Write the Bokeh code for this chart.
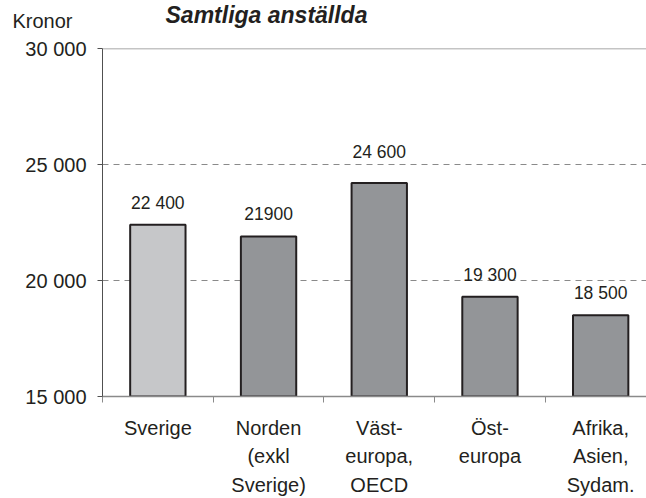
from bokeh.plotting import figure
from bokeh.models import Range1d, FixedTicker, ColumnDataSource, LabelSet, Title, Span
from bokeh.core.properties import value
from bokeh.embed import file_html
from bokeh.resources import INLINE

# ---- data ----
categories = ["Sverige", "Norden\n(exkl\nSverige)", "Väst-\neuropa,\nOECD", "Öst-\neuropa", "Afrika,\nAsien,\nSydam."]
bar_values = [22400, 21900, 24200, 19300, 18500]
label_values = [22400, 21900, 24600, 19300, 18500]
label_texts = ["22 400", "21900", "24 600", "19 300", "18 500"]
bar_colors = ["#c6c7c9", "#939598", "#939598", "#939598", "#939598"]
y_ticks = [15000, 20000, 25000, 30000]
y_tick_labels = ["15 000", "20 000", "25 000", "30 000"]
grid_dashed = [20000, 25000]
y_min, y_max = 15000, 30000
title_text = "Samtliga anställda"
unit_text = "Kronor"

FONT = "Liberation Sans"
TXT = "#231f20"

n = len(categories)
centers = [i + 0.5 for i in range(n)]
bounds = list(range(n + 1))

p = figure(width=646, height=498, output_backend="svg", toolbar_location=None,
           x_range=Range1d(0, 4.914), y_range=Range1d(y_min, y_max),
           min_border_left=102, min_border_right=0, min_border_top=48, min_border_bottom=102)
p.outline_line_color = None
p.background_fill_color = "white"
p.border_fill_color = "white"

# grid
p.xgrid.visible = False
p.ygrid.ticker = FixedTicker(ticks=grid_dashed)
p.ygrid.grid_line_color = "#8a8a8a"
p.ygrid.grid_line_dash = "6 5"
p.ygrid.grid_line_width = 1.2
p.add_layout(Span(location=y_max, dimension="width", line_color="#8a8a8a", line_width=1.5))

src = ColumnDataSource(dict(x=centers, top=bar_values, color=bar_colors,
                            ly=label_values, lt=label_texts))
p.vbar(x="x", top="top", bottom=y_min, width=0.5, source=src, fill_color="color",
       line_color="#231f20", line_width=2)

labels = LabelSet(x="x", y="ly", text="lt", source=src, y_offset=16,
                  text_align="center", text_baseline="alphabetic",
                  text_font=value(FONT), text_font_size=value("17.5px"), text_color=value(TXT))
p.add_layout(labels)

# y axis
yax = p.yaxis[0]
yax.ticker = FixedTicker(ticks=y_ticks)
yax.major_label_overrides = {t: l for t, l in zip(y_ticks, y_tick_labels)}
yax.major_tick_in = 0
yax.major_tick_out = 5
yax.minor_tick_out = 0
yax.minor_tick_in = 0
yax.major_label_standoff = 11
yax.axis_line_color = "#505050"
yax.major_tick_line_color = "#505050"
yax.major_label_text_font = FONT
yax.major_label_text_font_size = "20px"
yax.major_label_text_color = TXT

# x axis
xax = p.xaxis[0]
xax.ticker = FixedTicker(ticks=centers, minor_ticks=bounds)
xax.major_label_overrides = {c: lab for c, lab in zip(centers, categories)}
xax.major_tick_in = 0
xax.major_tick_out = 0
xax.minor_tick_in = 0
xax.minor_tick_out = 6
xax.minor_tick_line_color = "#8a8a8a"
xax.axis_line_color = "#8a8a8a"
xax.axis_line_width = 1.5
xax.major_label_standoff = 14
xax.major_label_text_font = FONT
xax.major_label_text_font_size = "20px"
xax.major_label_text_color = TXT
xax.major_label_text_line_height = 1.3

# texts above the plot area (zero-height title panels, shifted by standoff)
p.add_layout(Title(text=unit_text, align="left", vertical_align="top", offset=-90, standoff=-78,
                   text_font=FONT, text_font_size="20px", text_font_style="normal",
                   text_color=TXT), "above")
p.add_layout(Title(text=title_text, align="left", vertical_align="top", offset=63, standoff=-94,
                   text_font=FONT, text_font_size="23px", text_font_style="bold italic",
                   text_color=TXT), "above")

open("out.html", "w").write(file_html(p, INLINE))
